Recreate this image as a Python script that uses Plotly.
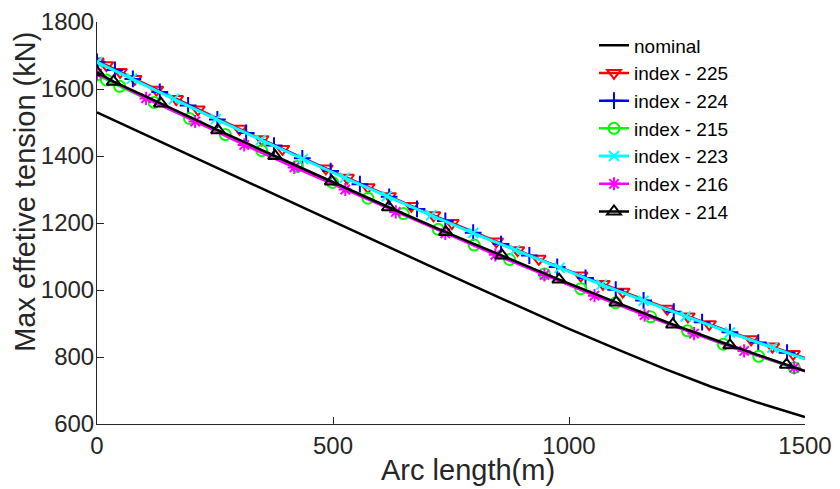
import plotly.graph_objects as go

# ---------------- data ----------------
nominal_x = [0, 100, 200, 300, 400, 500, 600, 700, 800, 900, 1000, 1100, 1200, 1300, 1400, 1500]
nominal_y = [1530, 1465, 1400, 1334, 1268, 1203, 1139, 1075, 1011, 947, 884, 824, 766, 712, 664, 621]

i225_x = [0, 20, 49, 80, 126, 168, 214, 302, 349, 393, 485, 530, 574, 619, 666, 713, 752,
          846, 891, 936, 1025, 1072, 1114, 1208, 1252, 1297, 1386, 1431, 1475]
i225_y = [1682, 1671, 1651, 1630, 1598, 1570, 1539, 1481, 1450, 1421, 1363, 1335, 1307, 1280,
          1251, 1223, 1200, 1145, 1119, 1093, 1043, 1018, 995, 944, 921, 898, 853, 831, 809]
i225_end = 797

i224_x = [0, 38, 76, 133, 193, 255, 316, 375, 435, 495, 557, 619, 678, 738, 797, 856, 916,
          975, 1035, 1099, 1158, 1222, 1282, 1341, 1401, 1462]
i224_y = [1681, 1657, 1630, 1591, 1551, 1509, 1469, 1431, 1393, 1355, 1316, 1278, 1242, 1206,
          1171, 1137, 1103, 1069, 1036, 1001, 969, 935, 904, 874, 843, 813]
i224_end = 795

i215_x = [0, 20, 48, 121, 196, 272, 349, 424, 499, 574, 649, 723, 799, 874, 948, 1025, 1099,
          1173, 1251, 1327, 1402, 1477]
i215_y = [1642, 1627, 1608, 1560, 1512, 1464, 1416, 1369, 1321, 1274, 1228, 1181, 1134, 1091,
          1048, 1004, 962, 920, 878, 838, 802, 768]
i215_end = 758

i223_x = [0, 74, 163, 252, 347, 436, 525, 614, 708, 797, 886, 980, 1069, 1158, 1247, 1341, 1431]
i223_y = [1680, 1631, 1570, 1510, 1448, 1391, 1335, 1280, 1223, 1170, 1119, 1066, 1016, 968,
          921, 873, 828]
i223_end = 794

i216_x = [0, 104, 208, 312, 418, 526, 633, 738, 844, 948, 1054, 1160, 1265, 1371, 1477]
i216_y = [1646, 1572, 1503, 1433, 1366, 1300, 1233, 1169, 1105, 1045, 983, 925, 870, 818, 768]
i216_end = 758

i214_x = [0, 35, 135, 256, 377, 497, 618, 739, 858, 979, 1100, 1220, 1341, 1461]
i214_y = [1650, 1622, 1557, 1477, 1400, 1324, 1247, 1173, 1103, 1031, 963, 897, 835, 777]
i214_end = 758

x_end = 1500
x_ticks = [0, 500, 1000, 1500]
y_ticks = [600, 800, 1000, 1200, 1400, 1600, 1800]

# ---------------- figure ----------------
FONT = "Liberation Sans, Arial, Helvetica, sans-serif"
TXT = "#262626"

fig = go.Figure()

fig.add_trace(go.Scatter(x=nominal_x, y=nominal_y, mode="lines", name="nominal",
                         line=dict(color="black", width=2.5)))

series = [
    ("index - 225", i225_x, i225_y, i225_end, "#FF0000", "triangle-down-open", 12, 2.5),
    ("index - 224", i224_x, i224_y, i224_end, "#0000FF", "cross-thin-open", 12, 2.5),
    ("index - 215", i215_x, i215_y, i215_end, "#00FF00", "circle-open", 11, 2.5),
    ("index - 223", i223_x, i223_y, i223_end, "#00FFFF", "x-thin-open", 10, 3),
    ("index - 216", i216_x, i216_y, i216_end, "#FF00FF", "asterisk-open", 11, 2.5),
    ("index - 214", i214_x, i214_y, i214_end, "#000000", "triangle-up-open", 12, 2.5),
]

for name, xs, ys, yend, col, sym, ms, lw in series:
    fig.add_trace(go.Scatter(x=[xs[-1], x_end], y=[ys[-1], yend], mode="lines",
                             line=dict(color=col, width=lw), showlegend=False,
                             hoverinfo="skip", legendgroup=name))
    fig.add_trace(go.Scatter(x=xs, y=ys, mode="lines+markers", name=name, legendgroup=name,
                             line=dict(color=col, width=lw),
                             marker=dict(symbol=sym, size=ms, color=col,
                                         line=dict(color=col, width=2))))

# page body has an 8px default margin, so the figure is sized/offset to compensate
fig.update_layout(
    width=832, height=481,
    margin=dict(l=89, r=35, t=14, b=65),
    paper_bgcolor="white", plot_bgcolor="white",
    font=dict(family=FONT, size=24, color=TXT),
    showlegend=True,
    legend=dict(x=0.702, y=0.989, xanchor="left", yanchor="top",
                bgcolor="rgba(0,0,0,0)", borderwidth=0,
                font=dict(family=FONT, size=19, color="black"),
                tracegroupgap=0, itemwidth=30),
    xaxis=dict(range=[0, 1500], tickvals=x_ticks, ticks="inside", ticklen=7,
               tickcolor=TXT, showline=True, linecolor=TXT, linewidth=1,
               showgrid=False, zeroline=False, mirror=False, automargin=False,
               ticklabeloverflow="allow",
               tickfont=dict(family=FONT, size=24, color=TXT)),
    yaxis=dict(range=[600, 1800], tickvals=y_ticks, ticks="inside", ticklen=7,
               tickcolor=TXT, showline=True, linecolor=TXT, linewidth=1,
               showgrid=False, zeroline=False, mirror=False, automargin=False,
               ticklabelstandoff=-3, ticklabeloverflow="allow",
               tickfont=dict(family=FONT, size=24, color=TXT)),
    annotations=[
        dict(text="Arc length(m)", xref="paper", yref="paper", x=0.524, y=-0.115,
             xanchor="center", yanchor="middle", showarrow=False,
             font=dict(family=FONT, size=29, color=TXT)),
        dict(text="Max effetive tension (kN)", xref="paper", yref="paper",
             x=-0.102, y=0.577, xanchor="center", yanchor="middle", textangle=-90,
             showarrow=False, font=dict(family=FONT, size=29, color=TXT)),
    ],
)

fig.write_html("out.html")
